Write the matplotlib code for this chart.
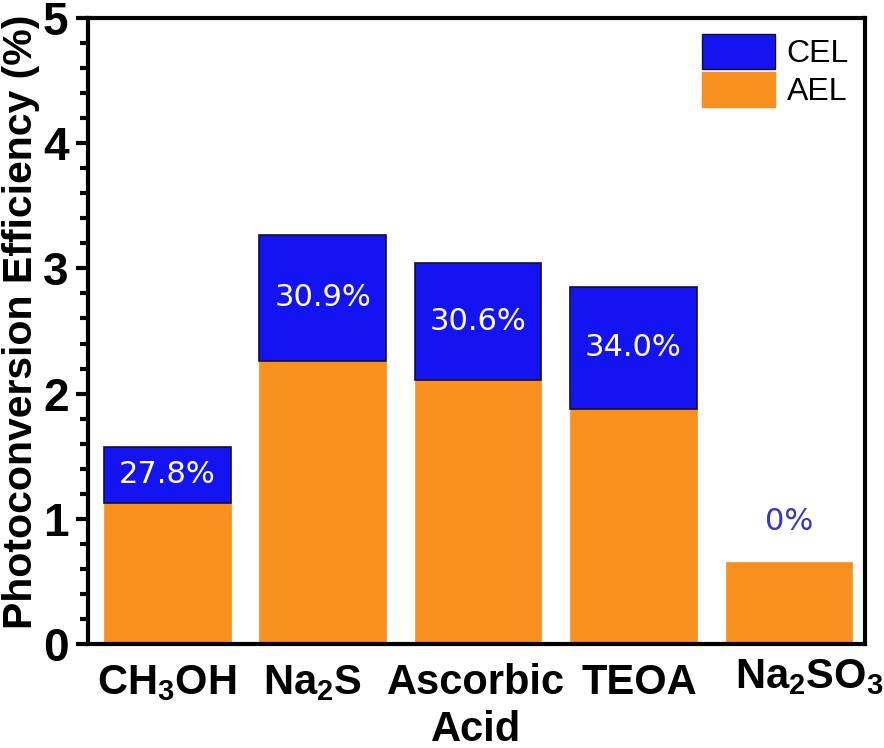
import numpy as np
import matplotlib
matplotlib.use('Agg')
import matplotlib.pyplot as plt
import matplotlib.transforms as mtransforms
from matplotlib.patches import Patch

# Données
categories = ['CH$_3$OH', 'Na$_2$S', 'Ascorbic\nAcid', 'TEOA', 'Na$_2$SO$_3$']
ael = [1.13, 2.26, 2.11, 1.88, 0.655]
total = [1.57, 3.27, 3.04, 2.85, 0.655]
ratios = ['27.8%', '30.9%', '30.6%', '34.0%', '0%']

cel = [t - a for t, a in zip(total, ael)]

plt.rcParams['font.family'] = 'Liberation Sans'
plt.rcParams['mathtext.fontset'] = 'custom'
plt.rcParams['mathtext.rm'] = 'Liberation Sans:bold'
plt.rcParams['mathtext.it'] = 'Liberation Sans:bold'
plt.rcParams['mathtext.bf'] = 'Liberation Sans:bold'

blue = '#1414F2'
orange = '#F7901E'

fig = plt.figure(figsize=(8.84, 7.48), dpi=100)
ax = fig.add_axes([0.0995, 0.139, 0.879, 0.837])

x = np.arange(len(categories))
w = 0.815
ax.bar(x, ael, w, color=orange, edgecolor=orange, lw=0.5)
cel_x = [i for i in x if cel[i] > 0]
ax.bar(cel_x, [cel[i] for i in cel_x], w, bottom=[ael[i] for i in cel_x],
       color=blue, edgecolor='#101030', lw=1.2)

# étiquettes de pourcentage (au milieu du segment CEL)
for i in x:
    if cel[i] > 0:
        ax.text(i, ael[i] + cel[i] / 2, ratios[i], ha='center', va='center',
                color='white', fontsize=22, family='DejaVu Sans')
    else:
        ax.text(i, total[i] + 0.32, ratios[i], ha='center', va='center',
                color='#3535C8', fontsize=22, family='DejaVu Sans')

ax.set_xlim(-0.51, 4.49)
ax.set_ylim(0, 5)
ax.set_yticks([0, 1, 2, 3, 4, 5])
ax.set_yticks(np.arange(0, 5.01, 0.2), minor=True)
ax.set_xticks(x)
ax.set_xticklabels(categories, fontsize=30, fontweight='bold', linespacing=1.2)
ax.tick_params(axis='x', length=0, pad=14)
ax.tick_params(axis='y', which='major', length=9, width=3, labelsize=33, pad=5)
ax.tick_params(axis='y', which='minor', length=6, width=3)
for lab in ax.get_yticklabels():
    lab.set_fontweight('bold')

# décalage des étiquettes comme sur la figure
shifts = [(0, 0), (-10, 0), (-2, 0), (6, 0), (21, 6)]
for lab, (dx, dy) in zip(ax.get_xticklabels(), shifts):
    lab.set_verticalalignment('top')
    lab.set_transform(lab.get_transform() +
                      mtransforms.ScaledTranslation(dx / 100, dy / 100, fig.dpi_scale_trans))

for sp in ax.spines.values():
    sp.set_linewidth(3)

ax.set_ylabel('Photoconversion Efficiency (%)', fontsize=29.5, fontweight='bold')
ax.yaxis.set_label_coords(-0.062, 0.515)

handles = [Patch(facecolor=blue, edgecolor='#101030', label='CEL'),
           Patch(facecolor=orange, edgecolor=orange, label='AEL')]
ax.legend(handles=handles, loc='upper right', frameon=False, fontsize=23,
          handlelength=2.3, handleheight=1.3, labelspacing=0.1,
          handletextpad=0.35, borderpad=0.1, borderaxespad=0.4)

fig.savefig('out.png', dpi=100)
